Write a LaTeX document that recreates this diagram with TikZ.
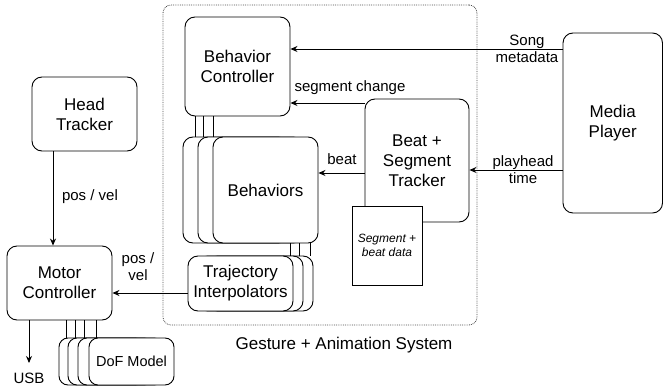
\documentclass[tikz,border=0pt]{standalone}
\usepackage{fontspec}
\setmainfont{Liberation Sans}
\usetikzlibrary{arrows.meta}
\tikzset{
  blk/.style={draw, rounded corners=10pt, fill=white, align=center,
              line width=0.9pt, inner sep=0pt, font=\fontsize{17}{20}\selectfont},
  dofbox/.style={blk, rounded corners=9pt, minimum width=85pt, minimum height=47pt,
                 font=\fontsize{14.5}{17}\selectfont},
  sysbox/.style={draw=black!70, densely dotted, rounded corners=8pt,
                 line width=0.8pt, inner sep=0pt},
  datbox/.style={draw, fill=white, line width=0.9pt, align=center, inner sep=0pt,
                 font=\fontsize{12}{14.5}\selectfont\itshape},
  lbl/.style={align=center, inner sep=0pt, font=\fontsize{15}{17}\selectfont},
  syslbl/.style={inner sep=0pt, font=\fontsize{17}{20}\selectfont},
  arr/.style={-{Stealth[length=7pt,width=6pt]}, line width=0.9pt},
  tie/.style={line width=0.9pt},
}
\begin{document}
\begin{tikzpicture}[x=1pt,y=-1pt]
  \useasboundingbox (0,0) rectangle (664,387);
  \node[sysbox, minimum width=314pt, minimum height=320pt] (sys) at (320,165) {};
  \node[syslbl] (sysname) at (344,345) {Gesture + Animation System};

  \node[blk, minimum width=105pt, minimum height=99pt] (bc) at (237.5,66.5) {Behavior\\Controller};
  \node[blk, minimum width=105pt, minimum height=106pt] (beh1) at (235.5,190) {};
  \node[blk, minimum width=105pt, minimum height=106pt] (beh2) at (250.5,190) {};
  \node[blk, minimum width=105pt, minimum height=106pt] (beh3) at (265.5,190) {Behaviors};
  \node[blk, minimum width=104pt, minimum height=123pt] (bst) at (417,160.5) {Beat +\\Segment\\Tracker};
  \node[datbox, minimum width=70pt, minimum height=79pt] (sbd) at (387,245.5) {Segment +\\beat data};
  \node[blk, minimum width=105pt, minimum height=55pt] (tr3) at (260.5,283.5) {};
  \node[blk, minimum width=105pt, minimum height=55pt] (tr2) at (250.5,283.5) {};
  \node[blk, minimum width=105pt, minimum height=55pt] (tr1) at (240.5,283.5) {Trajectory\\Interpolators};

  \node[blk, minimum width=105pt, minimum height=74pt] (ht) at (84.5,114) {Head\\Tracker};
  \node[blk, minimum width=105pt, minimum height=74pt] (mc) at (59.5,283) {Motor\\Controller};
  \node[dofbox] (dof1) at (101.5,361.5) {};
  \node[dofbox] (dof2) at (110.5,361.5) {};
  \node[dofbox] (dof3) at (120.5,361.5) {};
  \node[dofbox] (dof4) at (131.5,361.5) {DoF Model};

  \node[blk, minimum width=99.5pt, minimum height=180pt] (mp) at (612.75,123) {Media\\Player};

  % stacked links
  \foreach \dx in {11,19,29}
    \draw[tie] (bc.south west) ++(\dx,0) coordinate (t) -- (t |- beh1.north);
  \foreach \dx in {8,19,28}
    \draw[tie] (beh3.south east) ++(-\dx,0) coordinate (t) -- (t |- tr1.north);
  \foreach \dx in {60,69,78,90}
    \draw[tie] (mc.south west) ++(\dx,0) coordinate (t) -- (t |- dof1.north);

  % data flow
  \coordinate (ysong) at (0,49);
  \coordinate (yplay) at (0,170);
  \coordinate (yseg) at (0,103);
  \coordinate (ybeat) at (0,173);
  \coordinate (ypos) at (0,293);
  \coordinate (xhead) at (53,0);
  \coordinate (usb) at (29,363);
  \draw[arr] (mp.west |- ysong) -- (bc.east |- ysong);
  \draw[arr] (mp.west |- yplay) -- (bst.east |- yplay);
  \draw[arr] (bst.west |- yseg) -- (bc.east |- yseg);
  \draw[arr] (bst.west |- ybeat) -- (beh3.east |- ybeat);
  \draw[arr] (tr1.west |- ypos) -- (mc.east |- ypos);
  \draw[arr] (ht.south -| xhead) -- (mc.north -| xhead);
  \draw[arr] (mc.south -| usb) -- (usb);

  \node[lbl] (lsong) at (527,49) {Song\\metadata};
  \node[lbl] (lplay) at (523,170) {playhead\\time};
  \node[lbl] (lseg) at (350,88) {segment change};
  \node[lbl] (lbeat) at (342,159) {beat};
  \node[lbl] (lhead) at (90,197) {pos / vel};
  \node[lbl] (lpos) at (138,267) {pos /\\vel};
  \node[lbl] (lusb) at (29,378) {USB};
\end{tikzpicture}
\end{document}
